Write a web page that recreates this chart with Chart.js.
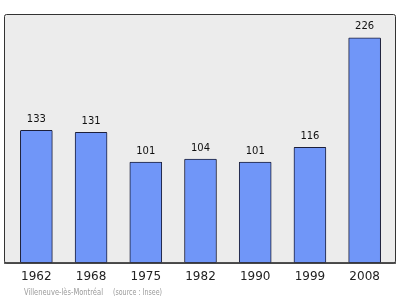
<!DOCTYPE html>
<html>
<head>
<meta charset="utf-8">
<script src="https://cdn.jsdelivr.net/npm/chart.js@4"></script>
<style>
  html, body { margin: 0; padding: 0; background: #fff; }
  #wrap { width: 400px; height: 299px; }
</style>
</head>
<body>
<div id="wrap"><canvas id="popChart" width="400" height="299"></canvas></div>
<script>
const years = ['1962', '1968', '1975', '1982', '1990', '1999', '2008'];
const population = [133, 131, 101, 104, 101, 116, 226];
const yMax = 250;
const footer = ['Villeneuve-lès-Montréal', '(source : Insee)'];

// grey panel behind the bars, with its dark frame
const panelPlugin = {
    id: 'panel',
    beforeDraw(chart) {
        const { ctx, chartArea } = chart;
        const left = chartArea.left - 5, top = chartArea.top;
        const w = chartArea.right + 3 - left, h = chartArea.bottom - top;
        ctx.save();
        ctx.fillStyle = '#ececec';
        ctx.strokeStyle = '#333';
        ctx.lineWidth = 1;
        ctx.beginPath();
        ctx.roundRect(left + 0.5, top + 0.5, w, h, 2);
        ctx.fill();
        ctx.stroke();
        ctx.lineWidth = 1.5;
        ctx.beginPath();
        ctx.moveTo(left, chartArea.bottom + 0.5);
        ctx.lineTo(left + w + 1, chartArea.bottom + 0.5);
        ctx.stroke();
        ctx.restore();
    }
};

// value above each bar, plus the source line at the bottom
const labelPlugin = {
    id: 'labels',
    afterDatasetsDraw(chart) {
        const { ctx } = chart;
        const meta = chart.getDatasetMeta(0);
        ctx.save();
        ctx.font = '10px "DejaVu Sans", sans-serif';
        ctx.fillStyle = '#111';
        ctx.textAlign = 'center';
        ctx.textBaseline = 'middle';
        meta.data.forEach((bar, i) => {
            ctx.fillText(population[i], bar.x, bar.y - 11);
        });
        ctx.font = '8px "DejaVu Sans", sans-serif';
        ctx.fillStyle = '#9a9a9a';
        ctx.textAlign = 'left';
        ctx.fillText(footer[0], 24, 293, 79);
        ctx.fillText(footer[1], 113, 293, 49);
        ctx.restore();
    }
};

const ctx = document.getElementById('popChart').getContext('2d');
new Chart(ctx, {
    type: 'bar',
    data: {
        labels: years,
        datasets: [{
            data: population,
            backgroundColor: '#7096f8',
            borderColor: '#1c1f3a',
            borderWidth: 1,
            borderSkipped: false,
            borderRadius: 1,
            barThickness: 32
        }]
    },
    options: {
        responsive: false,
        animation: false,
        layout: {
            padding: { left: 9, right: 8, top: 14, bottom: 8 }
        },
        plugins: {
            legend: { display: false },
            tooltip: { enabled: false }
        },
        scales: {
            x: {
                grid: { display: false, drawTicks: false },
                border: { display: false },
                ticks: {
                    color: '#222',
                    padding: 7,
                    font: { family: 'DejaVu Sans', size: 12 }
                }
            },
            y: {
                display: false,
                min: 0,
                max: yMax
            }
        }
    },
    plugins: [panelPlugin, labelPlugin]
});
</script>
</body>
</html>
